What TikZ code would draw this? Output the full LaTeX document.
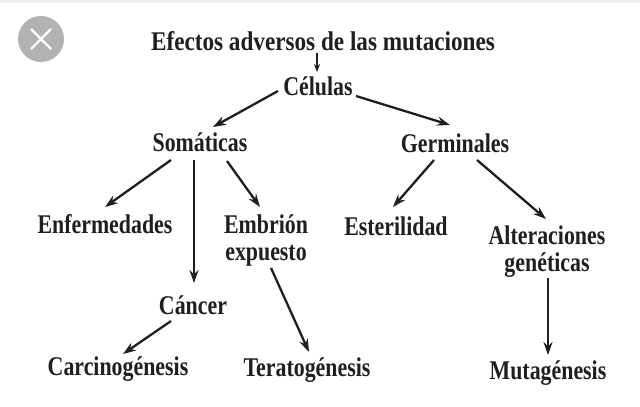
\documentclass[tikz,border=0pt]{standalone}
\usepackage{fontspec}
\setmainfont{Liberation Serif}
\usetikzlibrary{arrows.meta}
\tikzset{
  lbl/.style={font=\bfseries\fontsize{27}{27}\selectfont,text=black!88,align=center,inner sep=0pt,xscale=0.81},
  con/.style={line width=2.3pt,black!88,-{Stealth[length=13pt,width=9pt]}},
  con2/.style={line width=1.8pt,black!88,-{Stealth[length=8pt,width=6pt]}}
}
\begin{document}
\begin{tikzpicture}[x=1pt,y=-1pt]
\useasboundingbox (0,0) rectangle (640,407);
\fill[white] (0,0) rectangle (640,407);
\fill[black!6] (0,0) rectangle (640,3);
\node[circle,fill=black!30,minimum size=46pt,inner sep=0pt] (close) at (41,39) {};
\draw[white,line width=2.4pt] ([shift={(-10,-10)}]close.center) -- ([shift={(10,10)}]close.center);
\draw[white,line width=2.4pt] ([shift={(10,-10)}]close.center) -- ([shift={(-10,10)}]close.center);
\node[lbl,xscale=1.06] (title) at (323,41) {Efectos adversos de las mutaciones};
\node[lbl] (cel) at (318,86) {Células};
\node[lbl] (som) at (200,142) {Somáticas};
\node[lbl] (ger) at (455,143) {Germinales};
\node[lbl] (enf) at (105,224) {Enfermedades};
\node[lbl] (emb) at (266,240.5) {Embrión\\expuesto};
\node[lbl] (est) at (396,226) {Esterilidad};
\node[lbl] (alt) at (547,252) {Alteraciones\\genéticas};
\node[lbl] (can) at (193,305) {Cáncer};
\node[lbl] (car) at (118,369) {Carcinogénesis};
\node[lbl] (ter) at (307,370) {Teratogénesis};
\node[lbl] (mut) at (548,373) {Mutagénesis};
\draw[con2] ([shift={(-6,12)}]title.center) -- ([shift={(-1,-14)}]cel.center);
\draw[con] ([shift={(-40,5)}]cel.center) -- ([shift={(13,-15)}]som.center);
\draw[con] ([shift={(38,10)}]cel.center) -- ([shift={(-5,-18)}]ger.center);
\draw[con] ([shift={(-29,18)}]som.center) -- ([shift={(0,-17)}]enf.center);
\draw[con] ([shift={(-6,18)}]som.center) -- ([shift={(1,-22)}]can.center);
\draw[con] ([shift={(27,19)}]som.center) -- ([shift={(-6,-33.5)}]emb.center);
\draw[con] ([shift={(-21,17)}]ger.center) -- ([shift={(-3,-19)}]est.center);
\draw[con] ([shift={(22,17)}]ger.center) -- ([shift={(-1,-33)}]alt.center);
\draw[con] ([shift={(5,27.5)}]emb.center) -- ([shift={(2,-18)}]ter.center);
\draw[con] ([shift={(1,26)}]alt.center) -- ([shift={(0,-18)}]mut.center);
\draw[con] ([shift={(-22,16)}]can.center) -- ([shift={(5,-15)}]car.center);
\end{tikzpicture}
\end{document}
